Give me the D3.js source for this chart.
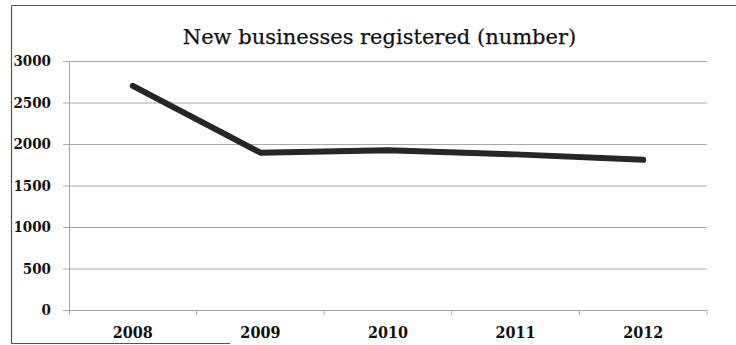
<!DOCTYPE html>
<html>
<head>
<meta charset="utf-8">
<script src="https://cdn.jsdelivr.net/npm/d3@7"></script>
<style>
  html, body { margin: 0; padding: 0; background: #fff; }
  svg { display: block; }
</style>
</head>
<body>
<svg id="chart" width="736" height="345"></svg>
<script>
// New businesses registered per year
const years = ["2008", "2009", "2010", "2011", "2012"];
const registrations = [2700, 1895, 1925, 1875, 1810];
const yTicks = [0, 500, 1000, 1500, 2000, 2500, 3000];
const chartTitle = "New businesses registered (number)";

const svg = d3.select("#chart");
const margin = { left: 69, right: 29, top: 61, bottom: 35 };
const W = 736, H = 345;

const x = d3.scaleBand().domain(years).range([margin.left, W - margin.right]);
const y = d3.scaleLinear().domain([0, 3000]).range([H - margin.bottom, margin.top]);

const gridColor = "#a8a8a8";
const serif = "'DejaVu Serif', 'Liberation Serif', serif";
const serifNarrow = "'DejaVu Serif Condensed', 'DejaVu Serif', serif";

// Outer frame (left, top and partial bottom edge)
svg.append("path")
  .attr("d", "M11.5,5.5 H736 M11.5,5.5 V343.5 M11.5,343.5 H230")
  .attr("fill", "none")
  .attr("stroke", "#555")
  .attr("stroke-width", 1.2);

// Title
svg.append("text")
  .attr("x", 379.5)
  .attr("y", 44)
  .attr("text-anchor", "middle")
  .attr("font-family", serif)
  .attr("font-size", 21)
  .attr("fill", "#111")
  .attr("stroke", "#111")
  .attr("stroke-width", 0.25)
  .text(chartTitle);

// Horizontal gridlines + value axis
const yAxis = d3.axisLeft(y)
  .tickValues(yTicks)
  .tickSize(-(W - margin.left - margin.right))
  .tickPadding(16)
  .tickFormat(d3.format("d"));

const gy = svg.append("g")
  .attr("transform", `translate(${margin.left},0)`)
  .call(yAxis);
gy.select(".domain").remove();
gy.selectAll(".tick line")
  .attr("x1", -6)
  .attr("stroke", gridColor)
  .attr("stroke-width", 1);
gy.selectAll(".tick text")
  .attr("font-family", serifNarrow)
  .attr("font-stretch", "condensed")
  .attr("font-weight", "bold")
  .attr("font-size", 15)
  .attr("fill", "#111")
  .attr("x", -18);

// Vertical axis line
svg.append("line")
  .attr("x1", margin.left + 0.5).attr("x2", margin.left + 0.5)
  .attr("y1", y(3000)).attr("y2", y(0) + 5)
  .attr("stroke", gridColor);

// Category axis with ticks at band boundaries
const gx = svg.append("g")
  .attr("transform", `translate(0,${y(0)})`)
  .call(d3.axisBottom(x).tickSize(0).tickPadding(17));
gx.select(".domain").remove();
gx.selectAll(".tick text")
  .attr("font-family", serifNarrow)
  .attr("font-stretch", "condensed")
  .attr("font-weight", "bold")
  .attr("font-size", 16)
  .attr("fill", "#111");

const bounds = years.map(d => x(d)).concat([x(years[years.length - 1]) + x.bandwidth()]);
gx.selectAll(".bound")
  .data(bounds.slice(1))
  .join("line")
  .attr("class", "bound")
  .attr("x1", d => d).attr("x2", d => d)
  .attr("y1", 0).attr("y2", 5)
  .attr("stroke", gridColor);

// Data line
const line = d3.line()
  .x((d, i) => x(years[i]) + x.bandwidth() / 2)
  .y(d => y(d));

svg.append("path")
  .datum(registrations)
  .attr("d", line)
  .attr("fill", "none")
  .attr("stroke", "#262626")
  .attr("stroke-width", 6)
  .attr("stroke-linecap", "round")
  .attr("stroke-linejoin", "round");
</script>
</body>
</html>
